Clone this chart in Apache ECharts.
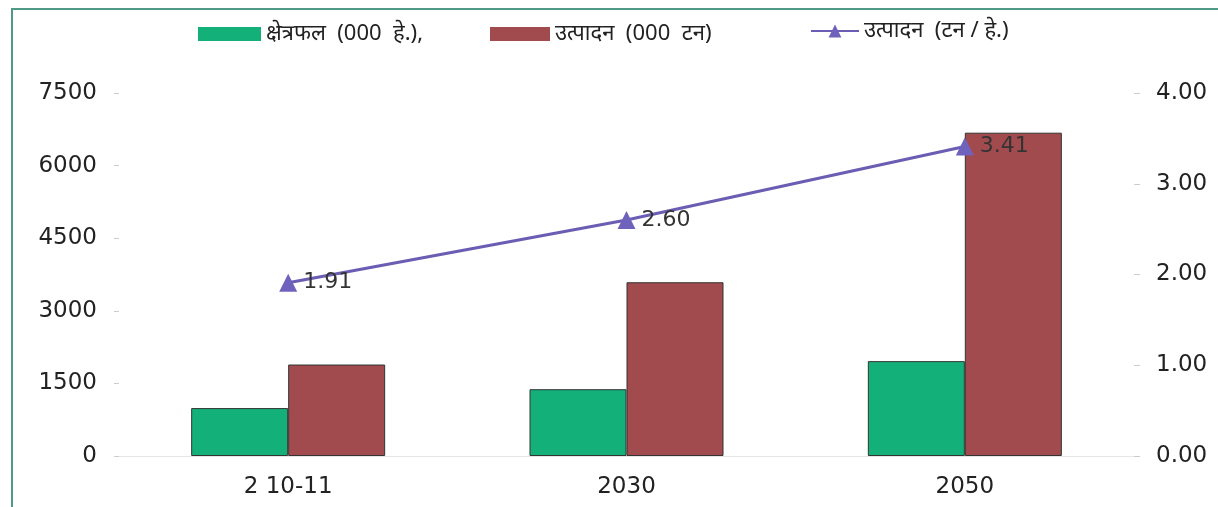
<!DOCTYPE html>
<html>
<head>
<meta charset="utf-8">
<script src="https://cdn.jsdelivr.net/npm/echarts@6/dist/echarts.min.js"></script>
<style>
  html, body { margin: 0; padding: 0; background: #fff; }
  #chart { width: 1218px; height: 507px; }
</style>
</head>
<body>
<div id="chart"></div>
<script>
// data
const categories = ['2 10-11', '2030', '2050']
const areaValues = [990, 1380, 1960]        // क्षेत्रफल (000 हे.)
const prodValues = [1890, 3590, 6680]       // उत्पादन (000 टन)
const yieldValues = [1.91, 2.60, 3.41]      // उत्पादन (टन/हे.)
const seriesNames = ['क्षेत्रफल  (000  हे.),', 'उत्पादन  (000  टन)', 'उत्पादन  (टन / हे.)']

const chart = echarts.init(document.getElementById('chart'))

const labelFont = {
    fontFamily: 'DejaVu Sans, sans-serif',
    fontSize: 23,
    color: '#222',
}
const legendText = {
    fontFamily: 'Noto Sans, DejaVu Sans, sans-serif',
    fontSize: 22,
    color: '#222',
}

chart.setOption({
    backgroundColor: '#fff',
    animation: false,
    // frame of the scanned figure
    graphic: [{
        type: 'polyline',
        shape: { points: [[12, 507], [12, 9], [1218, 9]] },
        style: { stroke: '#4f9a86', lineWidth: 2, fill: null },
    }],
    legend: [
        {
            data: [seriesNames[0]],
            icon: 'rect',
            left: 193, top: 18,
            itemWidth: 63, itemHeight: 14,
            itemStyle: { borderWidth: 0 },
            textStyle: legendText,
        },
        {
            data: [seriesNames[1]],
            icon: 'rect',
            left: 485, top: 18,
            itemWidth: 60, itemHeight: 14,
            itemStyle: { borderWidth: 0 },
            textStyle: legendText,
        },
        {
            data: [seriesNames[2]],
            left: 805, top: 15,
            itemWidth: 48, itemHeight: 16,
            textStyle: legendText,
        },
    ],
    grid: {
        left: 119,
        right: 84,
        top: 93,
        bottom: 51,
    },
    xAxis: {
        type: 'category',
        data: categories,
        axisTick: { show: false },
        axisLine: { show: true, lineStyle: { color: '#e6e6e6', width: 1 } },
        axisLabel: { ...labelFont, margin: 20 },
    },
    yAxis: [
        {
            type: 'value',
            min: 0,
            max: 7500,
            interval: 1500,
            axisLine: { show: false },
            axisTick: { show: true, length: 5, lineStyle: { color: '#ccc' } },
            splitLine: { show: false },
            axisLabel: { ...labelFont, margin: 22, formatter: v => String(v) },
        },
        {
            type: 'value',
            min: 0,
            max: 4,
            interval: 1,
            axisLine: { show: false },
            axisTick: { show: true, length: 6, lineStyle: { color: '#ccc' } },
            splitLine: { show: false },
            axisLabel: {
                ...labelFont,
                margin: 22,
                formatter: v => v.toFixed(2),
            },
        },
    ],
    series: [
        {
            name: seriesNames[0],
            type: 'bar',
            data: areaValues,
            barWidth: 97,
            barGap: '0%',
            itemStyle: { color: '#14b07a', borderColor: '#333', borderWidth: 1 },
        },
        {
            name: seriesNames[1],
            type: 'bar',
            data: prodValues,
            barWidth: 97,
            itemStyle: { color: '#a24b4f', borderColor: '#333', borderWidth: 1 },
        },
        {
            name: seriesNames[2],
            type: 'line',
            yAxisIndex: 1,
            data: yieldValues,
            symbol: 'triangle',
            symbolSize: 18,
            lineStyle: { color: '#6a5db3', width: 3 },
            itemStyle: { color: '#6f62bd' },
            label: {
                show: true,
                position: 'right',
                distance: 6,
                fontFamily: 'DejaVu Sans, sans-serif',
                fontSize: 22,
                color: '#333',
                formatter: p => p.value.toFixed(2),
            },
            z: 5,
        },
    ],
})
</script>
</body>
</html>
